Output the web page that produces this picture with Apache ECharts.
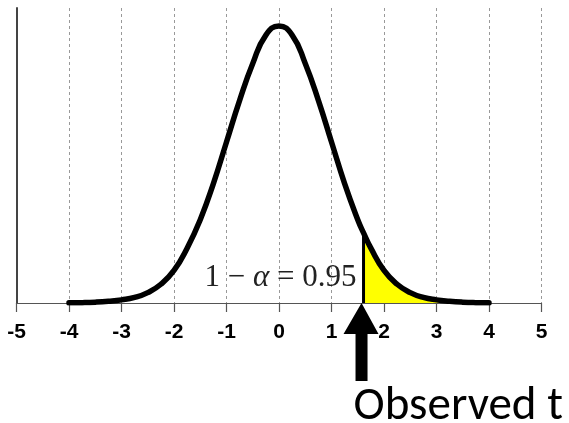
<!DOCTYPE html>
<html>
<head>
<meta charset="utf-8">
<script src="https://cdn.jsdelivr.net/npm/echarts@6/dist/echarts.min.js"></script>
<style>
  html, body { margin: 0; padding: 0; background: #fff; }
  #chart { width: 569px; height: 423px; }
</style>
</head>
<body>
<div id="chart"></div>
<script>
// curve (density values, x in z units)
const curveX = [-4, -3.75, -3.5, -3.25, -3, -2.75, -2.5, -2.25, -2, -1.75, -1.5, -1.25, -1, -0.75, -0.5, -0.25,
    0, 0.25, 0.5, 0.75, 1, 1.25, 1.5, 1.61, 1.75, 2, 2.25, 2.5, 2.75, 3, 3.25, 3.5, 3.75, 4];
const curveY = [0.0002, 0.0005, 0.0012, 0.0025, 0.0045, 0.008, 0.015, 0.027, 0.047, 0.079, 0.12, 0.172, 0.232, 0.292, 0.345, 0.386,
    0.399, 0.386, 0.345, 0.292, 0.232, 0.172, 0.12, 0.101, 0.079, 0.047, 0.027, 0.015, 0.008, 0.0045, 0.0025, 0.0012, 0.0005, 0.0002];
const cutoff = 1.61;
const xTicks = [-5, -4, -3, -2, -1, 0, 1, 2, 3, 4, 5];
const areaLabel = '1 − {a|α} = 0.95';
const arrowLabel = 'Observed t';

const curveData = curveX.map((x, i) => [x, curveY[i]]);
const shadeData = curveData.filter(d => d[0] >= cutoff);
const cutoffTop = curveY[curveX.indexOf(cutoff)];

const chart = echarts.init(document.getElementById('chart'));

const option = {
    animation: false,
    grid: {
        left: 16.5,
        right: 27.5,
        top: 8,
        bottom: 120
    },
    xAxis: {
        type: 'value',
        min: xTicks[0],
        max: xTicks[xTicks.length - 1],
        interval: 1,
        axisLine: { lineStyle: { color: '#555', width: 1.2 } },
        axisTick: { length: 9, lineStyle: { color: '#555', width: 1.2 } },
        axisLabel: { show: false },
        splitLine: {
            show: true,
            lineStyle: { color: '#999', width: 1, type: [3, 3] }
        }
    },
    yAxis: {
        type: 'value',
        min: 0,
        max: 0.425,
        axisLine: { show: true, onZero: false, lineStyle: { color: '#444', width: 2 } },
        axisTick: { show: false },
        axisLabel: { show: false },
        splitLine: { show: false }
    },
    series: [
        {
            name: 'tail',
            type: 'line',
            data: shadeData,
            smooth: 0.5,
            symbol: 'none',
            lineStyle: { width: 0 },
            areaStyle: { color: '#ffff00', opacity: 1 },
            z: 2
        },
        {
            name: 'cutoff',
            type: 'line',
            data: [[cutoff, 0], [cutoff, cutoffTop]],
            symbol: 'none',
            lineStyle: { color: '#000', width: 3 },
            z: 3
        },
        {
            name: 'density',
            type: 'line',
            data: curveData,
            smooth: 0.5,
            symbol: 'none',
            lineStyle: { color: '#000', width: 5.5, cap: 'round', join: 'round' },
            z: 4
        }
    ]
};

chart.setOption(option);

// tick labels placed at the axis positions of xTicks
const tickTexts = xTicks.map(v => {
    const p = chart.convertToPixel({ gridIndex: 0 }, [v, 0]);
    return {
        type: 'text',
        x: p[0],
        y: p[1] + 29,
        style: {
            text: String(v),
            align: 'center',
            verticalAlign: 'middle',
            font: 'bold 21px "Liberation Sans", Arial, sans-serif',
            fill: '#000'
        },
        z: 10
    };
});

// annotations anchored on the cutoff point at the axis
const tip = chart.convertToPixel({ gridIndex: 0 }, [cutoff, 0]);
const tx = tip[0] - 2, ty = tip[1];
chart.setOption({
    graphic: tickTexts.concat([
        {
            type: 'text',
            x: tx - 5,
            y: ty - 25,
            style: {
                text: areaLabel,
                align: 'right',
                verticalAlign: 'middle',
                font: '31px "Liberation Serif", "DejaVu Serif", serif',
                fill: '#222',
                rich: {
                    a: { fontStyle: 'italic', fontFamily: 'Liberation Serif', fontSize: 31, fill: '#222' }
                }
            },
            z: 10
        },
        {
            type: 'polygon',
            shape: {
                points: [
                    [tx, ty], [tx - 18, ty + 31], [tx - 6, ty + 31], [tx - 6, ty + 78],
                    [tx + 6, ty + 78], [tx + 6, ty + 31], [tx + 17, ty + 31]
                ]
            },
            style: { fill: '#000' },
            z: 11
        },
        {
            type: 'text',
            x: tx - 8,
            y: ty + 104,
            style: {
                text: arrowLabel,
                align: 'left',
                verticalAlign: 'middle',
                font: '47px Carlito, "Open Sans", sans-serif',
                fill: '#000'
            },
            z: 10
        }
    ])
});
</script>
</body>
</html>
